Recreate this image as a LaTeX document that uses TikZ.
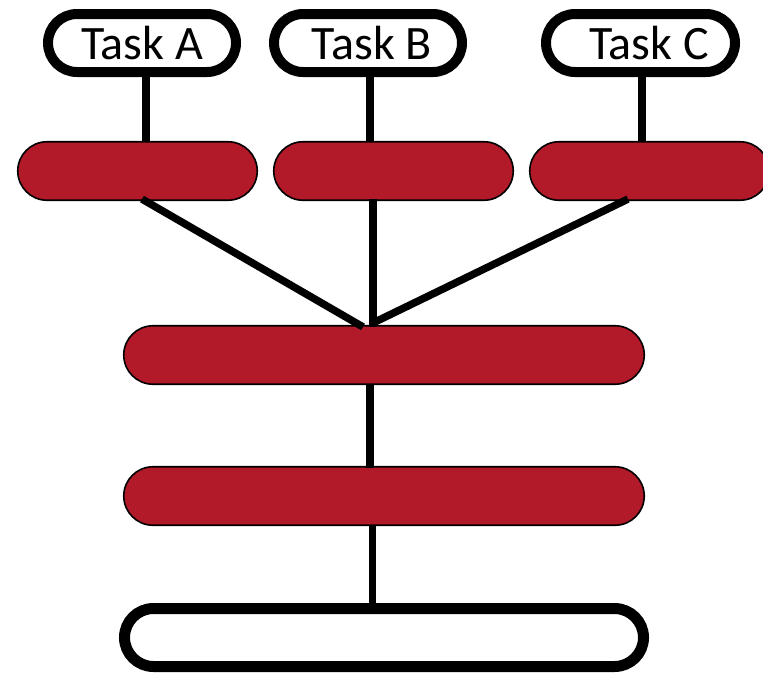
\documentclass[tikz,border=0pt]{standalone}
\usepackage{fontspec}
\setmainfont{Carlito}
\usetikzlibrary{shapes.misc,backgrounds}
\definecolor{barred}{RGB}{179,26,41}
\tikzset{
  taskbox/.style={rounded rectangle, draw=black, fill=white, line width=10pt,
    minimum width=188pt, minimum height=58pt, inner sep=0pt, font=\fontsize{48}{52}\selectfont},
  redbar/.style={rounded rectangle, draw=black, fill=barred, line width=1.6pt,
    minimum height=58.5pt, inner sep=0pt},
  endbox/.style={rounded rectangle, draw=black, fill=white, line width=11pt,
    minimum width=519pt, minimum height=58pt, inner sep=0pt},
  conn/.style={line width=7.5pt, line cap=butt, black}
}
\begin{document}
\begin{tikzpicture}[x=1pt,y=-1pt]
\useasboundingbox (0,0) rectangle (763,672);
% task boxes
\node[taskbox] (ta) at (142,43) {Task A\hspace{14pt}};
\node[taskbox] (tb) at (368,43) {\hspace{8pt}Task B};
\node[taskbox, minimum width=189pt] (tc) at (640.5,43) {\hspace{17pt}Task C};
% first row bars
\node[redbar, minimum width=239.5pt] (b1) at (137.5,171) {};
\node[redbar, minimum width=239.5pt] (b2) at (393.5,171) {};
\node[redbar, minimum width=239.5pt] (b3) at (649.5,171) {};
% middle bars
\node[redbar, minimum width=520.5pt] (m1) at (384,355) {};
\node[redbar, minimum width=520.5pt] (m2) at (384,496) {};
% bottom box
\node[endbox] (bot) at (384,637.5) {};
% connectors behind the shapes
\begin{scope}[on background layer]
\draw[conn] ([xshift=4pt]ta.south) -- ([xshift=4pt]ta.south |- b1.north);
\draw[conn] ([xshift=2pt]tb.south) -- ([xshift=2pt]tb.south |- b2.north);
\draw[conn] ([xshift=1.5pt]tc.south) -- ([xshift=1.5pt]tc.south |- b3.north);
\draw[conn] ([xshift=-11.5pt]m2.south) -- ([xshift=-11.5pt]m2.south |- bot.north);
\end{scope}
% connectors on top
\draw[conn] ([xshift=4.5pt,yshift=2pt]b1.south) -- ([xshift=-21pt,yshift=-2pt]m1.north);
\draw[conn] ([xshift=-20.5pt,yshift=2pt]b2.south) -- ([xshift=-11pt,yshift=-2pt]m1.north);
\draw[conn] ([xshift=-21.5pt,yshift=2pt]b3.south) -- ([xshift=-11pt,yshift=2pt]m1.north);
\draw[conn] ([xshift=-14pt]m1.south) -- ([xshift=-14pt,yshift=-2pt]m2.north);
\end{tikzpicture}
\end{document}
